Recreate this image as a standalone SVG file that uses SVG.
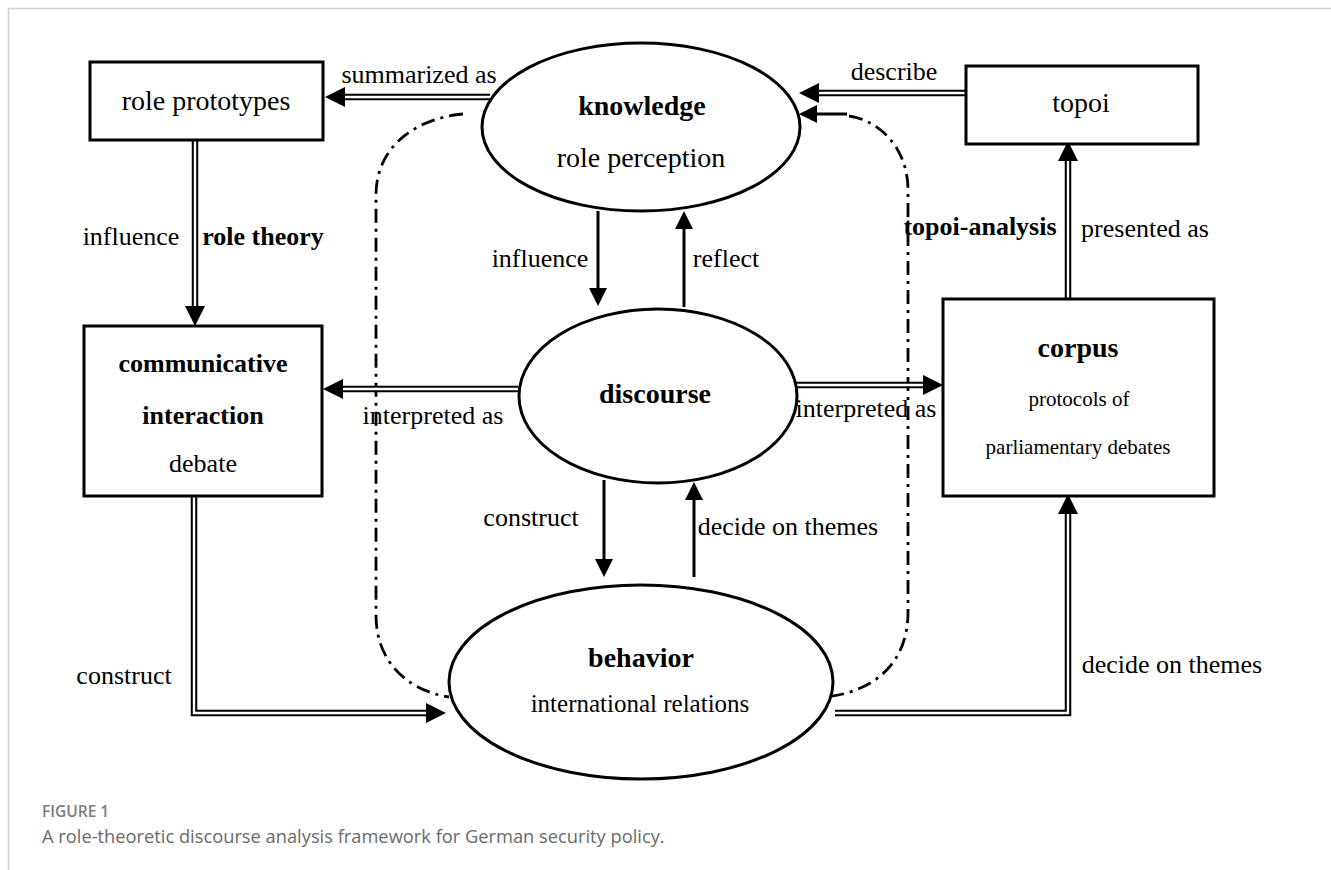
<svg xmlns="http://www.w3.org/2000/svg" width="1331" height="870" viewBox="0 0 1331 870">
<style>
.frame{stroke:#cfcfcf;stroke-width:1.5;fill:none}
.box{fill:#fff;stroke:#000;stroke-width:3}
.ell{fill:#fff;stroke:#000;stroke-width:3}
.t{font-family:"Liberation Serif","Times New Roman",serif;fill:#000;text-anchor:middle}
.n{font-size:28px}
.b{font-weight:bold}
.lbl{font-size:26px}
.sm{font-size:21px}
.dblo{fill:none;stroke:#000;stroke-width:6.5;stroke-linejoin:miter}
.dbli{fill:none;stroke:#fff;stroke-width:2.4;stroke-linejoin:miter}
.sgl{fill:none;stroke:#000;stroke-width:3}
.dd{fill:none;stroke:#000;stroke-width:2.8;stroke-dasharray:14 6 3 6}
.cap{font-family:"Open Sans","Noto Sans",sans-serif}
</style>
<defs>
<marker id="ah" markerUnits="userSpaceOnUse" markerWidth="20" markerHeight="20" viewBox="0 0 20 20" refX="6" refY="10" orient="auto">
<path d="M0,0 L20,10 L0,20 z" fill="#000"/>
</marker>
<marker id="as" markerUnits="userSpaceOnUse" markerWidth="18" markerHeight="18" viewBox="0 0 18 18" refX="8" refY="9" orient="auto">
<path d="M0,0 L18,9 L0,18 z" fill="#000"/>
</marker>
</defs>
<rect width="1331" height="870" fill="#fff"/>
<path class="frame" d="M8.5 870 L8.5 8.5 L1331 8.5"/>

<g id="connectors">
<path class="dd" d="M463 114 C418 118 376 145 376 195 L376 615 C376 660 405 690 449 697"/>
<path class="sgl" d="M451 698 L473 698" marker-end="url(#as)"/>
<path class="dd" d="M849 116 C878 120 908 147 908 190 L908 612 C908 660 878 691 826 697"/>
<path class="sgl" d="M847 114 L809 114" marker-end="url(#as)"/>

<path class="dblo" d="M490 97 L339 97" marker-end="url(#ah)"/>
<path class="dbli" d="M490 97 L345 97"/>
<path class="dblo" d="M966 93 L813 93" marker-end="url(#ah)"/>
<path class="dbli" d="M966 93 L819 93"/>
<path class="dblo" d="M195 140 L195 312" marker-end="url(#ah)"/>
<path class="dbli" d="M195 140 L195 306"/>
<path class="dblo" d="M518 389 L337 389" marker-end="url(#ah)"/>
<path class="dbli" d="M518 389 L343 389"/>
<path class="dblo" d="M773 385 L929 385" marker-end="url(#ah)"/>
<path class="dbli" d="M773 385 L923 385"/>
<path class="dblo" d="M194 496 L194 713 L432 713" marker-end="url(#ah)"/>
<path class="dbli" d="M194 496 L194 713 L426 713"/>
<path class="dblo" d="M835 713 L1068 713 L1068 508" marker-end="url(#ah)"/>
<path class="dbli" d="M835 713 L1068 713 L1068 514"/>
<path class="dblo" d="M1068 299 L1068 155" marker-end="url(#ah)"/>
<path class="dbli" d="M1068 299 L1068 161"/>

<path class="sgl" d="M598 211 L598 296" marker-end="url(#as)"/>
<path class="sgl" d="M684 307 L684 221" marker-end="url(#as)"/>
<path class="sgl" d="M604 480 L604 567" marker-end="url(#as)"/>
<path class="sgl" d="M694 577 L694 492" marker-end="url(#as)"/>

<text class="t lbl" x="419" y="83">summarized as</text>
<text class="t lbl" x="894" y="80">describe</text>
<text class="t lbl" x="131" y="245">influence</text>
<text class="t lbl b" x="263" y="245">role theory</text>
<text class="t lbl" x="540" y="267">influence</text>
<text class="t lbl" x="726" y="267">reflect</text>
<text class="t lbl b" x="980" y="235">topoi-analysis</text>
<text class="t lbl" x="1145" y="237">presented as</text>
<text class="t lbl" x="433" y="424">interpreted as</text>
<text class="t lbl" x="866" y="417">interpreted as</text>
<text class="t lbl" x="531" y="526">construct</text>
<text class="t lbl" x="788" y="535">decide on themes</text>
<text class="t lbl" x="124" y="684">construct</text>
<text class="t lbl" x="1172" y="673">decide on themes</text>
</g>

<g id="role-prototypes">
<rect class="box" x="90" y="62" width="233" height="78"/>
<text class="t n" x="206" y="110">role prototypes</text>
</g>
<g id="knowledge">
<ellipse class="ell" cx="641" cy="127" rx="159" ry="84"/>
<text class="t n b" x="642" y="115">knowledge</text>
<text class="t n" x="641" y="167">role perception</text>
</g>
<g id="topoi">
<rect class="box" x="966" y="66" width="232" height="78"/>
<text class="t n" x="1081" y="112">topoi</text>
</g>
<g id="communicative-interaction">
<rect class="box" x="84" y="326" width="238" height="170"/>
<text class="t lbl b" x="203" y="372">communicative</text>
<text class="t lbl b" x="203" y="424">interaction</text>
<text class="t lbl" x="203" y="472">debate</text>
</g>
<g id="discourse">
<ellipse class="ell" cx="658" cy="396" rx="139" ry="87"/>
<text class="t n b" x="655" y="403">discourse</text>
</g>
<g id="corpus">
<rect class="box" x="943" y="299" width="271" height="197"/>
<text class="t n b" x="1078" y="357">corpus</text>
<text class="t sm" x="1079" y="406">protocols of</text>
<text class="t sm" x="1078" y="454">parliamentary debates</text>
</g>
<g id="behavior">
<ellipse class="ell" cx="641" cy="682" rx="192" ry="97"/>
<text class="t n b" x="641" y="667">behavior</text>
<text class="t" style="font-size:25px" x="640" y="712">international relations</text>
</g>

<g id="caption">
<text class="cap" x="42" y="817" font-size="15.5" font-weight="600" fill="#7d7d7d">FIGURE 1</text>
<text class="cap" x="42" y="843" font-size="18.3" fill="#6a6a6a">A role-theoretic discourse analysis framework for German security policy.</text>
</g>
</svg>
